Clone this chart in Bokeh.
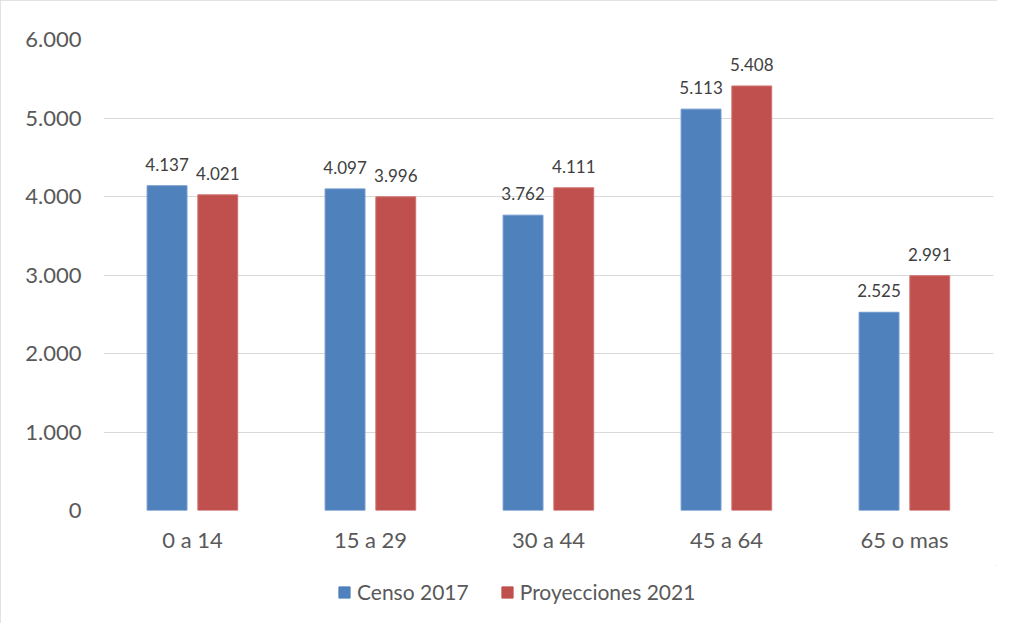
from bokeh.plotting import figure
from bokeh.layouts import column
from bokeh.models import ColumnDataSource, FactorRange, FixedTicker, LabelSet, Legend, LegendItem
from bokeh.transform import dodge
from bokeh.core.properties import value
from bokeh.embed import file_html
from bokeh.resources import INLINE

categories = ["0 a 14", "15 a 29", "30 a 44", "45 a 64", "65 o mas"]
censo_2017 = [4137, 4097, 3762, 5113, 2525]
proyecciones_2021 = [4021, 3996, 4111, 5408, 2991]
y_ticks = [0, 1000, 2000, 3000, 4000, 5000, 6000]
series_names = ["Censo 2017", "Proyecciones 2021"]
colors = ["#4F81BD", "#C0504D"]


def fmt(v):
    return f"{v:,}".replace(",", ".")


src = ColumnDataSource(dict(
    cat=categories,
    censo=censo_2017,
    proy=proyecciones_2021,
    censo_lbl=[fmt(v) for v in censo_2017],
    proy_lbl=[fmt(v) for v in proyecciones_2021],
))

FONT = "Lato"
TXT = "#595959"

p = figure(x_range=FactorRange(*categories, range_padding=0), y_range=(0, 6000),
           width=997, height=565, output_backend="svg", toolbar_location=None,
           min_border_left=103, min_border_right=4, min_border_top=39, min_border_bottom=55)
p.outline_line_color = None

p.vbar(x=dodge("cat", -0.143, range=p.x_range), top="censo", width=0.224, source=src,
       fill_color=colors[0], line_color="#6F98CC", line_width=1)
p.vbar(x=dodge("cat", 0.142, range=p.x_range), top="proy", width=0.224, source=src,
       fill_color=colors[1], line_color="#D07370", line_width=1)

for col, off in (("censo", -0.143), ("proy", 0.142)):
    p.add_layout(LabelSet(x=dodge("cat", off, range=p.x_range), y=col, text=col + "_lbl", source=src,
                          text_align="center", text_baseline="bottom", y_offset=15,
                          text_font=value(FONT), text_font_size="17px", text_color="#404040"))

p.yaxis.ticker = FixedTicker(ticks=y_ticks)
p.yaxis.major_label_overrides = {t: fmt(t) for t in y_ticks}
for ax in (p.xaxis, p.yaxis):
    ax.axis_line_color = None
    ax.major_tick_line_color = None
    ax.minor_tick_line_color = None
    ax.major_tick_out = 0
    ax.major_tick_in = 0
    ax.major_label_text_font = FONT
    ax.major_label_text_font_size = "22px"
    ax.major_label_text_color = TXT
p.yaxis.major_label_standoff = 22
p.xaxis.major_label_standoff = 15
p.xgrid.grid_line_color = None
p.ygrid.grid_line_color = "#d9d9d9"
p.ygrid.grid_line_width = 1

# legend strip below the chart
lg = figure(width=997, height=58, x_range=(0, 1), y_range=(0, 1), output_backend="svg",
            toolbar_location=None, min_border=0, min_border_left=0, min_border_right=0,
            min_border_top=0, min_border_bottom=0)
lg.axis.visible = False
lg.grid.visible = False
lg.outline_line_color = None
hidden = ColumnDataSource(dict(l=[-10], r=[-9], b=[-10], t=[-9]))
r1 = lg.quad(left="l", right="r", bottom="b", top="t", source=hidden,
             fill_color=colors[0], line_color=colors[0])
r2 = lg.quad(left="l", right="r", bottom="b", top="t", source=hidden,
             fill_color=colors[1], line_color=colors[1])
legend = Legend(items=[LegendItem(label=series_names[0], renderers=[r1]),
                       LegendItem(label=series_names[1], renderers=[r2])],
                orientation="horizontal", location=(234, 19),
                glyph_width=14, glyph_height=14, spacing=31, label_standoff=6,
                padding=0, margin=0,
                label_text_font=FONT, label_text_font_size="21px", label_text_color=TXT,
                border_line_color=None, background_fill_alpha=0)
lg.add_layout(legend, "center")

layout = column(p, lg, spacing=0)
layout.styles = {"outline": "1px solid #d9d9d9", "outline-offset": "-1px"}

open("out.html", "w").write(file_html(layout, INLINE))
